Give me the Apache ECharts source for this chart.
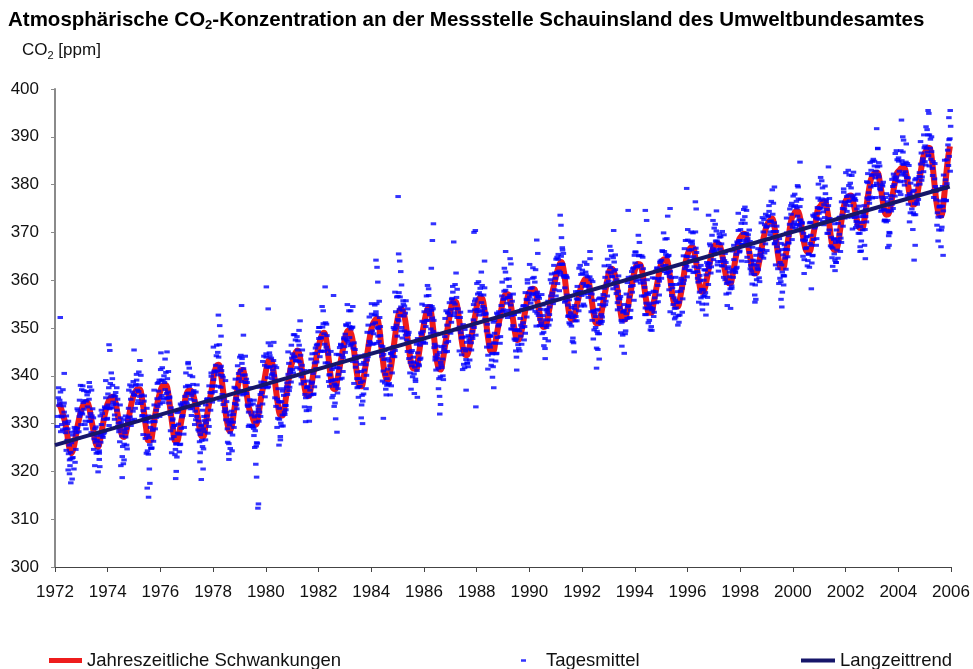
<!DOCTYPE html>
<html>
<head>
<meta charset="utf-8">
<title>CO2 Schauinsland</title>
<script src="https://cdn.jsdelivr.net/npm/echarts@6/dist/echarts.min.js"></script>
<style>
  html, body { margin: 0; padding: 0; background: #fff; }
  #main { width: 973px; height: 669px; }
</style>
</head>
<body>
<div id="main"></div>
<script>
var FONT = "'Liberation Sans', Arial, sans-serif";

// Jahre der Messreihe (eine Zeile je Jahr in den Tabellen unten)
var jahre = [1972, 1973, 1974, 1975, 1976, 1977, 1978, 1979, 1980, 1981, 1982, 1983, 1984, 1985, 1986, 1987, 1988,
  1989, 1990, 1991, 1992, 1993, 1994, 1995, 1996, 1997, 1998, 1999, 2000, 2001, 2002, 2003, 2004, 2005];

// Jahreszeitliche Schwankungen: Monatswerte Jan..Dez (ppm)
var saisonal = [
  [null, 334.2, 333.5, 332.0, 330.5, 328.0, 325.0, 323.8, 325.0, 327.5, 330.0, 332.0],
  [333.5, 334.3, 334.5, 333.5, 331.0, 328.5, 326.0, 325.1, 326.5, 329.0, 331.5, 333.5],
  [334.8, 335.5, 335.6, 334.5, 332.0, 329.5, 327.6, 327.2, 328.5, 331.0, 333.5, 335.5],
  [336.5, 337.2, 337.2, 335.5, 332.5, 329.0, 326.5, 326.5, 328.5, 331.5, 334.0, 336.0],
  [337.5, 338.0, 338.0, 336.5, 333.0, 329.5, 326.5, 326.3, 328.0, 330.5, 333.0, 335.5],
  [336.8, 337.0, 336.5, 335.0, 333.0, 330.0, 327.5, 327.3, 329.5, 332.5, 335.0, 337.5],
  [340.5, 342.0, 342.3, 340.5, 337.0, 333.0, 330.0, 328.5, 329.5, 332.5, 335.5, 338.5],
  [341.0, 341.2, 339.0, 335.5, 333.0, 332.0, 330.5, 329.8, 331.5, 334.5, 337.0, 339.5],
  [342.0, 343.3, 343.2, 341.0, 337.5, 334.0, 331.8, 331.7, 333.5, 336.5, 339.5, 342.0],
  [343.5, 344.8, 345.3, 344.0, 341.0, 338.0, 336.0, 335.8, 337.5, 340.0, 342.5, 345.0],
  [347.0, 348.5, 349.0, 347.5, 344.0, 340.0, 337.5, 337.2, 339.0, 341.5, 344.0, 346.5],
  [348.5, 349.4, 349.2, 347.5, 344.0, 340.5, 338.2, 337.8, 339.5, 342.5, 345.5, 348.5],
  [350.5, 351.5, 352.0, 350.5, 346.5, 342.5, 339.8, 339.2, 340.5, 343.5, 347.0, 350.5],
  [353.0, 353.9, 353.5, 351.5, 348.0, 344.5, 342.0, 341.5, 341.5, 344.0, 347.0, 349.5],
  [352.0, 353.8, 354.4, 352.5, 348.5, 344.5, 341.8, 341.3, 343.0, 346.0, 349.0, 352.0],
  [354.5, 355.6, 355.5, 353.5, 350.0, 346.5, 344.6, 344.3, 345.5, 348.0, 350.5, 353.0],
  [355.5, 356.3, 356.2, 354.0, 350.5, 347.0, 345.2, 345.2, 347.0, 349.5, 352.0, 354.5],
  [356.5, 357.1, 357.0, 355.0, 352.0, 349.0, 347.5, 347.8, 349.5, 352.0, 354.5, 357.0],
  [357.8, 358.2, 358.0, 356.0, 353.5, 351.0, 350.2, 350.5, 352.5, 355.0, 357.5, 359.5],
  [361.5, 363.0, 363.8, 362.5, 359.0, 355.0, 352.3, 351.7, 352.5, 354.5, 356.5, 358.5],
  [359.5, 360.2, 360.2, 358.5, 355.5, 352.5, 351.0, 351.0, 352.5, 355.0, 357.5, 360.0],
  [362.0, 362.4, 361.8, 359.8, 356.5, 353.5, 351.8, 351.8, 353.5, 356.0, 358.5, 361.0],
  [362.8, 363.4, 363.3, 361.5, 358.0, 355.0, 353.2, 353.2, 355.0, 357.5, 360.0, 362.5],
  [364.0, 364.4, 364.3, 362.5, 359.0, 356.0, 354.6, 354.5, 356.0, 358.5, 361.5, 364.5],
  [366.0, 366.8, 366.8, 365.0, 362.0, 359.0, 357.6, 357.8, 359.5, 362.0, 364.5, 366.5],
  [367.3, 367.7, 367.5, 366.0, 363.5, 361.0, 359.5, 359.3, 361.0, 363.5, 366.0, 368.5],
  [369.2, 369.7, 369.5, 367.5, 365.0, 362.5, 361.4, 361.6, 363.5, 366.0, 368.5, 370.5],
  [371.8, 372.5, 372.9, 371.5, 368.0, 364.5, 362.6, 362.6, 364.5, 367.5, 370.5, 373.0],
  [373.8, 374.5, 374.3, 372.5, 369.5, 367.0, 366.0, 366.0, 367.5, 370.0, 372.5, 375.0],
  [375.5, 376.2, 376.4, 375.0, 372.0, 368.5, 366.5, 366.3, 367.5, 370.5, 373.5, 376.0],
  [377.0, 377.6, 377.7, 376.3, 374.0, 372.0, 370.9, 370.9, 372.5, 375.5, 378.5, 381.0],
  [382.0, 382.5, 382.5, 380.8, 378.0, 375.0, 373.7, 373.8, 375.5, 378.0, 380.5, 382.5],
  [383.0, 383.5, 383.7, 382.5, 379.8, 377.0, 375.8, 375.9, 377.5, 380.5, 383.5, 386.0],
  [387.0, 387.7, 387.5, 384.5, 380.0, 376.0, 373.8, 373.5, 376.0, 380.5, 385.0, 388.0]
];

// Tagesmittel, Kern der Wolke: je Jahr 36 Werte (drei je Monat, Jan..Dez)
var tagesmittel = [
  [null,null,null, 331.5,335.4,333.8, 334.3,336.6,331.6, 331.4,328.7,333.7, 332.4,330.3,328.1, 331.6,326.5,328.9, 323.7,325.5,321.2, 324.0,326.0,322.8, 322.9,326.6,329.2, 328.6,324.6,328.1, 329.1,332.7,328.3, 334.9,332.1,329.8],
  [337.1,332.0,334.4, 333.0,334.8,330.5, 334.7,336.7,333.5, 331.4,335.1,337.7, 332.1,328.1,331.6, 327.6,331.2,326.8, 328.9,326.1,323.8, 327.5,324.0,325.4, 323.8,327.7,326.1, 329.8,332.1,327.1, 330.9,328.2,333.2, 335.4,333.3,331.1],
  [333.9,337.5,333.1, 338.4,335.6,333.3, 338.0,334.5,335.9, 331.8,335.7,334.1, 332.8,335.1,330.1, 328.9,326.2,331.2, 329.5,327.4,325.2, 330.8,325.7,328.1, 327.2,329.0,324.7, 331.2,333.2,330.0, 331.4,335.1,337.7, 336.6,332.6,336.1],
  [335.9,333.2,338.2, 339.1,337.0,334.8, 340.8,335.7,338.1, 334.2,336.0,331.7, 332.7,334.7,331.5, 326.9,330.6,333.2, 327.6,323.6,327.1, 325.6,329.2,324.8, 331.4,328.6,326.3, 333.9,330.4,331.8, 331.3,335.2,333.6, 336.8,339.1,334.1],
  [335.4,339.1,341.7, 339.1,335.1,338.6, 337.1,340.7,336.3, 339.4,336.6,334.3, 335.4,331.9,333.3, 326.8,330.7,329.1, 327.3,329.6,324.6, 325.7,323.0,328.0, 329.9,327.8,325.6, 334.1,329.0,331.4, 331.7,333.5,329.2, 335.7,337.7,334.5],
  [334.1,338.0,336.4, 337.8,340.1,335.1, 335.9,333.2,338.2, 336.9,334.8,332.6, 336.6,331.5,333.9, 328.7,330.5,326.2, 327.7,329.7,326.5, 325.2,328.9,331.5, 330.6,326.6,330.1, 331.6,335.2,330.8, 337.9,335.1,332.8, 339.9,336.4,337.8],
  [339.2,341.0,336.7, 342.2,344.2,341.0, 340.2,343.9,346.5, 341.6,337.6,341.1, 336.1,339.7,335.3, 335.9,333.1,330.8, 332.4,328.9,330.3, 325.8,329.7,328.1, 330.3,332.6,327.6, 331.9,329.2,334.2, 337.4,335.3,333.1, 342.1,337.0,339.4],
  [343.9,341.1,338.8, 343.6,340.1,341.5, 336.3,340.2,338.6, 336.3,338.6,333.6, 332.4,329.7,334.7, 333.9,331.8,329.6, 334.1,329.0,331.4, 328.5,330.3,326.0, 331.7,333.7,330.5, 332.4,336.1,338.7, 338.1,334.1,337.6, 338.6,342.2,337.8],
  [343.9,341.8,339.6, 346.9,341.8,344.2, 341.9,343.7,339.4, 341.2,343.2,340.0, 335.4,339.1,341.7, 335.1,331.1,334.6, 330.9,334.5,330.1, 334.6,331.8,329.5, 335.9,332.4,333.8, 333.8,337.7,336.1, 340.3,342.6,337.6, 341.4,338.7,343.7],
  [344.6,340.6,344.1, 343.9,347.5,343.1, 348.2,345.4,343.1, 346.4,342.9,344.3, 338.3,342.2,340.6, 338.8,341.1,336.1, 335.4,332.7,337.7, 337.7,335.6,333.4, 341.1,336.0,338.4, 338.7,340.5,336.2, 342.7,344.7,341.5, 342.9,346.6,349.2],
  [347.8,350.1,345.1, 347.9,345.2,350.2, 350.9,348.8,346.6, 351.1,346.0,348.4, 342.7,344.5,340.2, 340.2,342.2,339.0, 335.4,339.1,341.7, 338.3,334.3,337.8, 338.1,341.7,337.3, 344.4,341.6,339.3, 346.4,342.9,344.3, 343.8,347.7,346.1],
  [348.7,350.7,347.5, 347.3,351.0,353.6, 350.3,346.3,349.8, 346.6,350.2,345.8, 346.9,344.1,341.8, 342.9,339.4,340.8, 335.5,339.4,337.8, 338.6,340.9,335.9, 338.9,336.2,341.2, 344.4,342.3,340.1, 349.1,344.0,346.4, 347.2,349.0,344.7],
  [352.9,349.4,350.8, 348.8,352.7,351.1, 352.8,355.1,350.1, 349.9,347.2,352.2, 348.4,346.3,344.1, 346.1,341.0,343.4, 338.5,340.3,336.0, 339.4,341.4,338.2, 338.4,342.1,344.7, 344.6,340.6,344.1, 346.1,349.7,345.3, 353.4,350.6,348.3],
  [356.6,351.5,353.9, 352.6,354.4,350.1, 353.7,355.7,352.5, 349.4,353.1,355.7, 349.1,345.1,348.6, 343.6,347.2,342.8, 344.9,342.1,339.8, 343.9,340.4,341.8, 338.8,342.7,341.1, 344.8,347.1,342.1, 346.4,343.7,348.7, 351.4,349.3,347.1],
  [351.1,354.7,350.3, 356.7,353.9,351.6, 356.8,353.3,354.7, 349.8,353.7,352.1, 349.3,351.6,346.6, 343.9,341.2,346.2, 343.7,341.6,339.4, 344.9,339.8,342.2, 341.7,343.5,339.2, 346.2,348.2,345.0, 346.9,350.6,353.2, 353.1,349.1,352.6],
  [353.9,351.2,356.2, 357.5,355.4,353.2, 359.1,354.0,356.4, 352.2,354.0,349.7, 350.2,352.2,349.0, 344.4,348.1,350.7, 345.7,341.7,345.2, 343.4,347.0,342.6, 348.4,345.6,343.3, 350.4,346.9,348.3, 347.8,351.7,350.1, 353.8,356.1,351.1],
  [353.4,357.1,359.7, 357.4,353.4,356.9, 355.3,358.9,354.5, 356.9,354.1,351.8, 352.9,349.4,350.8, 344.3,348.2,346.6, 346.0,348.3,343.3, 344.6,341.9,346.9, 348.9,346.8,344.6, 353.1,348.0,350.4, 350.7,352.5,348.2, 354.7,356.7,353.5],
  [353.8,357.7,356.1, 357.9,360.2,355.2, 356.4,353.7,358.7, 356.9,354.8,352.6, 355.6,350.5,352.9, 347.7,349.5,345.2, 347.7,349.7,346.5, 345.7,349.4,352.0, 350.6,346.6,350.1, 351.1,354.7,350.3, 357.4,354.6,352.3, 359.4,355.9,357.3],
  [356.5,358.3,354.0, 358.4,360.4,357.2, 355.9,359.6,362.2, 357.1,353.1,356.6, 352.6,356.2,351.8, 353.9,351.1,348.8, 352.6,349.1,350.5, 347.8,351.7,350.1, 353.3,355.6,350.6, 354.4,351.7,356.7, 359.4,357.3,355.1, 363.1,358.0,360.4],
  [364.4,361.6,359.3, 365.4,361.9,363.3, 361.1,365.0,363.4, 363.3,365.6,360.6, 358.4,355.7,360.7, 356.9,354.8,352.6, 355.9,350.8,353.2, 350.4,352.2,347.9, 352.7,354.7,351.5, 352.4,356.1,358.7, 357.6,353.6,357.1, 357.6,361.2,356.8],
  [361.4,359.3,357.1, 363.8,358.7,361.1, 358.9,360.7,356.4, 358.7,360.7,357.5, 353.4,357.1,359.7, 353.6,349.6,353.1, 350.1,353.7,349.3, 353.9,351.1,348.8, 354.9,351.4,352.8, 352.3,356.2,354.6, 358.3,360.6,355.6, 359.4,356.7,361.7],
  [363.1,359.1,362.6, 361.5,365.1,360.7, 364.7,361.9,359.6, 362.2,358.7,360.1, 353.8,357.7,356.1, 354.3,356.6,351.6, 351.2,348.5,353.5, 353.7,351.6,349.4, 357.1,352.0,354.4, 354.7,356.5,352.2, 358.7,360.7,357.5, 358.9,362.6,365.2],
  [363.6,365.9,360.9, 362.8,360.1,365.1, 365.2,363.1,360.9, 365.1,360.0,362.4, 356.7,358.5,354.2, 355.2,357.2,354.0, 351.1,354.8,357.4, 354.3,350.3,353.8, 354.1,357.7,353.3, 360.4,357.6,355.3, 362.4,358.9,360.3, 359.8,363.7,362.1],
  [364.2,366.2,363.0, 362.3,366.0,368.6, 365.4,361.4,364.9, 361.6,365.2,360.8, 361.9,359.1,356.8, 358.4,354.9,356.3, 351.9,355.8,354.2, 355.3,357.6,352.6, 355.4,352.7,357.7, 360.4,358.3,356.1, 365.1,360.0,362.4, 363.2,365.0,360.7],
  [368.4,364.9,366.3, 364.1,368.0,366.4, 367.6,369.9,364.9, 364.4,361.7,366.7, 363.9,361.8,359.6, 362.6,357.5,359.9, 356.3,358.1,353.8, 358.0,360.0,356.8, 357.4,361.1,363.7, 363.1,359.1,362.6, 363.6,367.2,362.8, 369.4,366.6,364.3],
  [370.9,365.8,368.2, 366.4,368.2,363.9, 367.7,369.7,366.5, 363.9,367.6,370.2, 364.6,360.6,364.1, 360.1,363.7,359.3, 362.4,359.6,357.3, 361.7,358.2,359.6, 358.3,362.2,360.6, 364.3,366.6,361.6, 365.4,362.7,367.7, 370.4,368.3,366.1],
  [368.3,371.9,367.5, 372.6,369.8,367.5, 371.9,368.4,369.8, 364.8,368.7,367.1, 365.8,368.1,363.1, 361.9,359.2,364.2, 363.3,361.2,359.0, 365.2,360.1,362.5, 362.2,364.0,359.7, 366.2,368.2,365.0, 366.4,370.1,372.7, 371.6,367.6,371.1],
  [371.2,368.5,373.5, 374.4,372.3,370.1, 376.5,371.4,373.8, 370.2,372.0,367.7, 368.2,370.2,367.0, 362.4,366.1,368.7, 363.7,359.7,363.2, 361.7,365.3,360.9, 367.4,364.6,362.3, 369.9,366.4,367.8, 367.8,371.7,370.1, 373.8,376.1,371.1],
  [371.7,375.4,378.0, 375.6,371.6,375.1, 373.4,377.0,372.6, 375.4,372.6,370.3, 371.9,368.4,369.8, 364.3,368.2,366.6, 366.8,369.1,364.1, 365.4,362.7,367.7, 369.4,367.3,365.1, 373.6,368.5,370.9, 371.2,373.0,368.7, 375.2,377.2,374.0],
  [372.8,376.7,375.1, 377.0,379.3,374.3, 375.8,373.1,378.1, 376.9,374.8,372.6, 375.6,370.5,372.9, 367.2,369.0,364.7, 366.7,368.7,365.5, 364.2,367.9,370.5, 368.6,364.6,368.1, 369.6,373.2,368.8, 376.4,373.6,371.3, 378.4,374.9,376.3],
  [375.7,377.5,373.2, 377.8,379.8,376.6, 375.6,379.3,381.9, 377.4,373.4,376.9, 373.1,376.7,372.3, 374.9,372.1,369.8, 373.3,369.8,371.2, 368.2,372.1,370.5, 373.3,375.6,370.6, 374.9,372.2,377.2, 380.4,378.3,376.1, 384.6,379.5,381.9],
  [384.9,382.1,379.8, 384.9,381.4,382.8, 379.8,383.7,382.1, 381.6,383.9,378.9, 377.4,374.7,379.7, 376.9,374.8,372.6, 377.3,372.2,374.6, 372.5,374.3,370.0, 375.7,377.7,374.5, 375.9,379.6,382.2, 381.6,377.6,381.1, 381.6,385.2,380.8],
  [384.9,382.8,380.6, 387.1,382.0,384.4, 382.4,384.2,379.9, 382.7,384.7,381.5, 377.7,381.4,384.0, 378.1,374.1,377.6, 374.9,378.5,374.1, 378.8,376.0,373.7, 379.9,376.4,377.8, 377.8,381.7,380.1, 384.3,386.6,381.6, 385.4,382.7,387.7],
  [388.1,384.1,387.6, 386.8,390.4,386.0, 390.4,387.6,385.3, 386.9,383.4,384.8, 377.3,381.2,379.6, 376.8,379.1,374.1, 373.2,370.5,375.5, 375.4,373.3,371.1, 379.6,374.5,376.9, 379.2,381.0,376.7, 385.2,387.2,384.0, 385.9,389.6,392.2]
];

// Tagesmittel, Rand der Wolke: je Jahr 24 Werte (zwei je Monat, Jan..Dez)
var tagesmittelRand = [
  [null,null, 329.4,337.5, 334.9,328.3, 329.8,337.1, 334.3,328.9, 324.4,330.0, 330.5,322.4, 322.6,328.2, 327.6,320.5, 321.9,329.0, 333.1,327.0, 331.5,338.0],
  [332.3,337.9, 336.9,329.8, 328.9,336.0, 336.6,330.5, 330.5,337.0, 333.1,324.6, 321.2,329.3, 326.5,319.9, 324.3,331.6, 332.8,327.4, 327.9,333.5, 339.0,330.9],
  [336.2,329.6, 333.3,340.6, 339.4,334.0, 330.9,336.5, 337.5,329.4, 328.3,333.9, 330.2,323.1, 321.6,328.7, 331.6,325.5, 330.5,337.0, 338.1,329.6, 330.7,338.8],
  [330.9,338.0, 340.3,334.2, 336.7,343.2, 340.1,331.6, 327.7,335.8, 330.4,323.8, 324.3,331.6, 330.3,324.9, 324.9,330.5, 337.0,328.9, 332.8,338.4, 338.6,331.5],
  [341.3,335.9, 334.4,340.0, 343.5,335.4, 335.3,340.9, 335.6,328.5, 323.9,331.0, 329.6,323.5, 325.8,332.3, 332.6,324.1, 325.7,333.8, 334.4,327.8, 333.3,340.6],
  [336.3,342.8, 341.6,333.1, 331.7,339.8, 336.4,329.8, 330.8,338.1, 333.8,328.4, 323.9,329.5, 332.8,324.7, 328.3,333.9, 335.1,328.0, 329.4,336.5, 340.6,334.5],
  [346.0,337.9, 340.8,346.4, 344.9,337.8, 334.9,342.0, 340.1,334.0, 332.5,339.0, 334.6,326.1, 323.7,331.8, 330.9,324.3, 330.3,337.6, 339.3,333.9, 334.9,340.5],
  [336.2,344.3, 342.6,336.0, 336.8,344.1, 339.3,333.9, 329.4,335.0, 337.5,329.4, 329.3,334.9, 332.4,325.3, 325.9,333.0, 337.6,331.5, 336.5,343.0, 344.1,335.6],
  [344.6,337.5, 337.7,344.8, 346.3,340.2, 340.5,347.0, 342.1,333.6, 329.2,337.3, 333.2,326.6, 329.5,336.8, 337.3,331.9, 332.9,338.5, 345.0,336.9, 340.8,346.4],
  [341.3,348.6, 348.6,343.2, 341.7,347.3, 349.5,341.4, 339.8,345.4, 340.6,333.5, 330.4,337.5, 338.9,332.8, 337.0,343.5, 344.6,336.1, 337.7,345.8, 346.4,339.8],
  [350.1,344.0, 348.0,354.5, 353.6,345.1, 342.7,350.8, 345.4,338.8, 337.8,345.1, 341.3,335.9, 333.6,339.2, 344.5,336.4, 340.3,345.9, 346.6,339.5, 340.9,348.0],
  [344.9,350.5, 354.9,346.8, 348.0,353.6, 350.1,343.0, 338.4,345.5, 343.6,337.5, 337.7,344.2, 342.4,333.9, 334.7,342.8, 343.9,337.3, 343.3,350.6, 352.3,346.9],
  [355.1,346.6, 346.7,354.8, 353.4,346.8, 348.3,355.6, 350.3,344.9, 338.9,344.5, 345.3,337.2, 338.0,343.6, 343.1,336.0, 337.9,345.0, 350.1,344.0, 350.0,356.5],
  [351.8,357.4, 356.5,349.4, 347.9,355.0, 354.6,348.5, 347.5,354.0, 349.1,340.6, 337.2,345.3, 342.9,336.3, 339.3,346.6, 347.8,342.4, 343.4,349.0, 355.0,346.9],
  [353.4,346.8, 351.6,358.9, 358.2,352.8, 348.9,354.5, 354.0,345.9, 343.3,348.9, 344.4,337.3, 335.7,342.8, 346.1,340.0, 345.5,352.0, 353.6,345.1, 347.2,355.3],
  [348.9,356.0, 358.7,352.6, 355.0,361.5, 358.1,349.6, 345.2,353.3, 347.9,341.3, 342.4,349.7, 348.1,342.7, 341.9,347.5, 353.5,345.4, 349.3,354.9, 355.6,348.5],
  [359.3,353.9, 352.7,358.3, 361.7,353.6, 352.8,358.4, 353.1,346.0, 341.4,348.5, 348.3,342.2, 344.7,351.2, 351.6,343.1, 344.7,352.8, 353.4,346.8, 352.3,359.6],
  [356.0,362.5, 361.7,353.2, 352.2,360.3, 356.4,349.8, 349.8,357.1, 352.8,347.4, 343.9,349.5, 353.3,345.2, 348.3,353.9, 354.6,347.5, 348.9,356.0, 360.1,354.0],
  [363.3,355.2, 357.0,362.6, 360.6,353.5, 350.4,357.5, 356.6,350.5, 350.5,357.0, 354.8,346.3, 345.7,353.8, 353.9,347.3, 352.8,360.1, 361.3,355.9, 355.9,361.5],
  [356.7,364.8, 364.4,357.8, 361.6,368.9, 366.3,360.9, 355.4,361.0, 360.5,352.4, 351.1,356.7, 354.3,347.2, 346.9,354.0, 357.6,351.5, 356.0,362.5, 363.1,354.6],
  [362.1,355.0, 354.6,361.7, 363.3,357.2, 358.0,364.5, 360.1,351.6, 347.7,355.8, 352.4,345.8, 348.8,356.1, 356.3,350.9, 351.4,357.0, 363.0,354.9, 358.8,364.4],
  [359.8,367.1, 366.2,360.8, 358.2,363.8, 365.3,357.2, 355.3,360.9, 356.1,349.0, 346.2,353.3, 354.9,348.8, 353.0,359.5, 360.6,352.1, 353.7,361.8, 362.4,355.8],
  [365.9,359.8, 362.9,369.4, 367.9,359.4, 356.7,364.8, 359.4,352.8, 352.8,360.1, 357.0,351.6, 349.6,355.2, 360.5,352.4, 356.3,361.9, 362.6,355.5, 356.9,364.0],
  [360.4,366.0, 369.9,361.8, 363.1,368.7, 365.1,358.0, 353.4,360.5, 359.1,353.0, 354.1,360.6, 359.1,350.6, 351.2,359.3, 359.9,353.3, 359.3,366.6, 368.3,362.9],
  [370.6,362.1, 362.0,370.1, 368.2,361.6, 362.8,370.1, 365.8,360.4, 355.4,361.0, 363.1,355.0, 356.6,362.2, 362.1,355.0, 356.4,363.5, 367.6,361.5, 366.0,372.5],
  [366.1,371.7, 370.3,363.2, 361.9,369.0, 369.1,363.0, 363.0,369.5, 365.6,357.1, 354.7,362.8, 360.7,354.1, 358.8,366.1, 367.3,361.9, 362.4,368.0, 374.0,365.9],
  [370.6,364.0, 367.5,374.8, 373.3,367.9, 363.9,369.5, 370.5,362.4, 361.3,366.9, 364.0,356.9, 356.0,363.1, 366.6,360.5, 365.5,372.0, 373.1,364.6, 365.7,373.8],
  [366.2,373.3, 375.6,369.5, 372.4,378.9, 376.1,367.6, 363.2,371.3, 365.9,359.3, 360.4,367.7, 366.4,361.0, 360.9,366.5, 373.0,364.9, 369.3,374.9, 375.6,368.5],
  [377.6,372.2, 370.9,376.5, 379.8,371.7, 371.3,376.9, 372.1,365.0, 361.4,368.5, 369.1,363.0, 365.5,372.0, 372.1,363.6, 365.2,373.3, 373.9,367.3, 372.8,380.1],
  [375.0,381.5, 380.8,372.3, 371.6,379.7, 376.4,369.8, 369.8,377.1, 372.3,366.9, 362.9,368.5, 371.8,363.7, 366.3,371.9, 373.1,366.0, 367.9,375.0, 379.1,373.0],
  [382.5,374.4, 376.4,382.0, 380.3,373.2, 370.7,377.8, 377.1,371.0, 371.5,378.0, 375.5,367.0, 366.1,374.2, 373.9,367.3, 373.3,380.6, 382.3,376.9, 377.4,383.0],
  [377.2,385.3, 383.9,377.3, 380.3,387.6, 384.6,379.2, 374.4,380.0, 380.5,372.4, 372.5,378.1, 376.4,369.3, 369.9,377.0, 381.1,375.0, 380.0,386.5, 387.1,378.6],
  [385.6,378.5, 377.9,385.0, 386.8,380.7, 382.0,388.5, 384.4,375.9, 372.2,380.3, 377.2,370.6, 373.7,381.0, 381.3,375.9, 376.9,382.5, 389.0,380.9, 384.8,390.4],
  [384.8,392.1, 391.5,386.1, 383.9,389.5, 390.0,381.9, 378.8,384.4, 378.6,371.5, 368.2,375.3, 376.6,370.5, 375.5,382.0, 385.1,376.6, 380.2,388.3, 389.4,382.8]
];

// einzelne Tagesmittel abseits der Hauptwolke [Jahr, ppm]
var ausreisser = [
  [1972.2, 352.2], [1972.35, 340.5], [1972.5, 320.3], [1972.55, 319.5], [1972.6, 317.6], [1972.65, 318.4],
  [1973.3, 338.6], [1973.68, 322.5], [1973.7, 321.0],
  [1974.05, 346.5], [1974.08, 345.3], [1974.5, 321.2], [1974.55, 318.7], [1974.62, 322.4],
  [1975.0, 345.4], [1975.5, 316.5], [1975.55, 314.6], [1975.58, 320.5], [1975.6, 317.5],
  [1976.02, 344.8], [1976.25, 345.0], [1976.58, 318.5], [1976.6, 320.0],
  [1977.05, 342.5], [1977.5, 322.0], [1977.55, 318.3], [1977.62, 320.5],
  [1978.2, 352.7], [1978.25, 350.5], [1978.3, 348.3], [1978.6, 322.5], [1978.65, 324.8],
  [1979.08, 354.7], [1979.15, 348.5], [1979.55, 327.5], [1979.58, 325.0], [1979.62, 321.5], [1979.65, 318.8],
  [1979.7, 312.3], [1979.72, 313.2],
  [1980.02, 358.6], [1980.09, 354.0], [1980.5, 325.5], [1980.55, 327.3],
  [1981.3, 351.5], [1981.65, 330.5],
  [1982.25, 358.6], [1982.57, 356.8], [1982.65, 331.0], [1982.7, 328.2],
  [1983.3, 354.5], [1983.62, 331.2], [1983.67, 330.0],
  [1984.18, 364.2], [1984.22, 362.7], [1984.25, 359.6], [1984.46, 331.1], [1984.9, 357.5],
  [1985.02, 377.5], [1985.04, 365.5], [1985.08, 364.0], [1985.12, 361.8], [1985.15, 359.0], [1985.75, 335.5],
  [1986.28, 362.5], [1986.32, 368.3], [1986.36, 371.8], [1986.6, 332.0], [1986.63, 334.0],
  [1987.13, 368.0], [1987.6, 337.0], [1987.9, 370.0], [1987.95, 370.4], [1987.97, 333.5],
  [1988.3, 364.0], [1988.6, 339.7], [1988.65, 337.5],
  [1989.1, 366.0], [1989.27, 364.5], [1989.3, 363.4], [1989.52, 341.2],
  [1990.28, 368.4], [1990.32, 365.6], [1990.6, 343.6],
  [1991.17, 373.6], [1991.2, 371.5], [1991.25, 366.8], [1991.7, 345.0],
  [1992.3, 366.0], [1992.55, 341.6], [1992.6, 345.5], [1992.65, 343.5],
  [1993.2, 370.4], [1993.6, 344.7], [1993.75, 374.6],
  [1994.4, 374.6], [1994.45, 372.5], [1994.65, 349.5],
  [1995.25, 373.4], [1995.34, 375.0], [1995.55, 352.3],
  [1995.97, 379.2], [1996.3, 376.4], [1996.33, 374.9],
  [1996.7, 352.7], [1996.8, 373.6], [1997.1, 374.5],
  [1998.18, 375.3], [1998.24, 374.6], [1998.56, 355.4],
  [1999.3, 379.5], [1999.55, 356.0], [1999.58, 354.4], [1999.6, 357.5], [1999.65, 359.0],
  [2000.2, 379.5], [2000.27, 384.7], [2000.7, 358.2],
  [2001.35, 383.7], [2001.6, 362.0], [2001.64, 363.7],
  [2002.1, 383.0], [2002.3, 382.6], [2002.55, 366.0], [2002.75, 364.5],
  [2003.18, 391.7], [2003.22, 387.5], [2003.6, 366.8], [2003.65, 367.3],
  [2004.12, 393.5], [2004.17, 390.0], [2004.2, 389.3], [2004.6, 364.2], [2004.64, 367.3],
  [2005.13, 395.5], [2005.16, 394.9], [2005.62, 367.0], [2005.7, 365.2], [2005.92, 394.0], [2005.97, 395.5]
];

// Langzeittrend (Anfang und Ende der Geraden)
var trendJahre = [1972.0, 2005.95];
var trendWerte = [325.5, 379.6];

var saisonPunkte = [];
saisonal.forEach(function (row, i) {
  row.forEach(function (v, m) {
    if (v !== null) saisonPunkte.push([jahre[i] + (m + 0.5) / 12, v]);
  });
});

var tagesPunkte = [];
tagesmittel.forEach(function (row, i) {
  row.forEach(function (v, k) {
    if (v !== null) tagesPunkte.push([jahre[i] + (k + 0.5) / 36, v]);
  });
});
tagesmittelRand.forEach(function (row, i) {
  row.forEach(function (v, k) {
    if (v !== null) tagesPunkte.push([jahre[i] + (k + 0.25) / 24, v]);
  });
});
ausreisser.forEach(function (p) { tagesPunkte.push(p); });

var trendPunkte = trendJahre.map(function (t, i) { return [t, trendWerte[i]]; });

var myChart = echarts.init(document.getElementById('main'));

var option = {
  animation: false,
  backgroundColor: '#fff',
  title: [
    {
      text: '{b|Atmosphärische CO}{s|2}{b|-Konzentration an der Messstelle Schauinsland des Umweltbundesamtes}',
      left: 8,
      top: 8,
      padding: 0,
      textStyle: {
        rich: {
          b: { fontSize: 20.5, fontWeight: 'bold', fontFamily: FONT, color: '#000' },
          s: { fontSize: 13, fontWeight: 'bold', fontFamily: FONT, color: '#000', padding: [11, 0, 0, 0] }
        }
      }
    },
    {
      text: '{b|CO}{s|2}{b| [ppm]}',
      left: 22,
      top: 40,
      padding: 0,
      textStyle: {
        rich: {
          b: { fontSize: 17, fontWeight: 'normal', fontFamily: FONT, color: '#111' },
          s: { fontSize: 11, fontWeight: 'normal', fontFamily: FONT, color: '#111', padding: [10, 0, 0, 0] }
        }
      }
    }
  ],
  legend: [
    {
      data: [{ name: 'Jahreszeitliche Schwankungen', icon: 'rect' }],
      left: 49, top: 651, padding: 0,
      itemWidth: 33, itemHeight: 5,
      textStyle: { fontSize: 18.5, fontFamily: FONT, color: '#111' }
    },
    {
      data: [{ name: 'Tagesmittel', icon: 'rect' }],
      left: 521, top: 651, padding: 0,
      itemWidth: 5, itemHeight: 2.5,
      textStyle: { fontSize: 18.5, fontFamily: FONT, color: '#111', padding: [0, 0, 0, 15] }
    },
    {
      data: [{ name: 'Langzeittrend', icon: 'rect' }],
      left: 801, top: 651, padding: 0,
      itemWidth: 34, itemHeight: 4,
      textStyle: { fontSize: 18.5, fontFamily: FONT, color: '#111' }
    }
  ],
  grid: { left: 55, right: 22, top: 89, bottom: 102, containLabel: false },
  xAxis: {
    type: 'value',
    min: 1972,
    max: 2006,
    interval: 2,
    axisLine: { lineStyle: { color: '#444', width: 1 } },
    axisTick: { show: true, length: 5, lineStyle: { color: '#444' } },
    axisLabel: {
      fontSize: 17, fontFamily: FONT, color: '#111', margin: 17,
      formatter: function (v) { return String(v); }
    },
    splitLine: { show: false }
  },
  yAxis: {
    type: 'value',
    min: 300,
    max: 400,
    interval: 10,
    axisLine: { show: true, lineStyle: { color: '#8a8a8a', width: 2 } },
    axisTick: { show: true, length: 4, lineStyle: { color: '#8a8a8a' } },
    axisLabel: { fontSize: 17, fontFamily: FONT, color: '#111', margin: 16 },
    splitLine: { show: false }
  },
  series: [
    {
      name: 'Jahreszeitliche Schwankungen',
      type: 'line',
      data: saisonPunkte,
      smooth: 0.4,
      showSymbol: false,
      lineStyle: { color: '#ee1c1c', width: 6 },
      itemStyle: { color: '#ee1c1c' },
      z: 2
    },
    {
      name: 'Tagesmittel',
      type: 'scatter',
      data: tagesPunkte,
      symbol: 'rect',
      symbolSize: [5.5, 3],
      itemStyle: { color: '#0000ff' },
      z: 3
    },
    {
      name: 'Langzeittrend',
      type: 'line',
      data: trendPunkte,
      showSymbol: false,
      lineStyle: { color: '#16166a', width: 4 },
      itemStyle: { color: '#16166a' },
      z: 4
    }
  ]
};

option && myChart.setOption(option);
</script>
</body>
</html>
